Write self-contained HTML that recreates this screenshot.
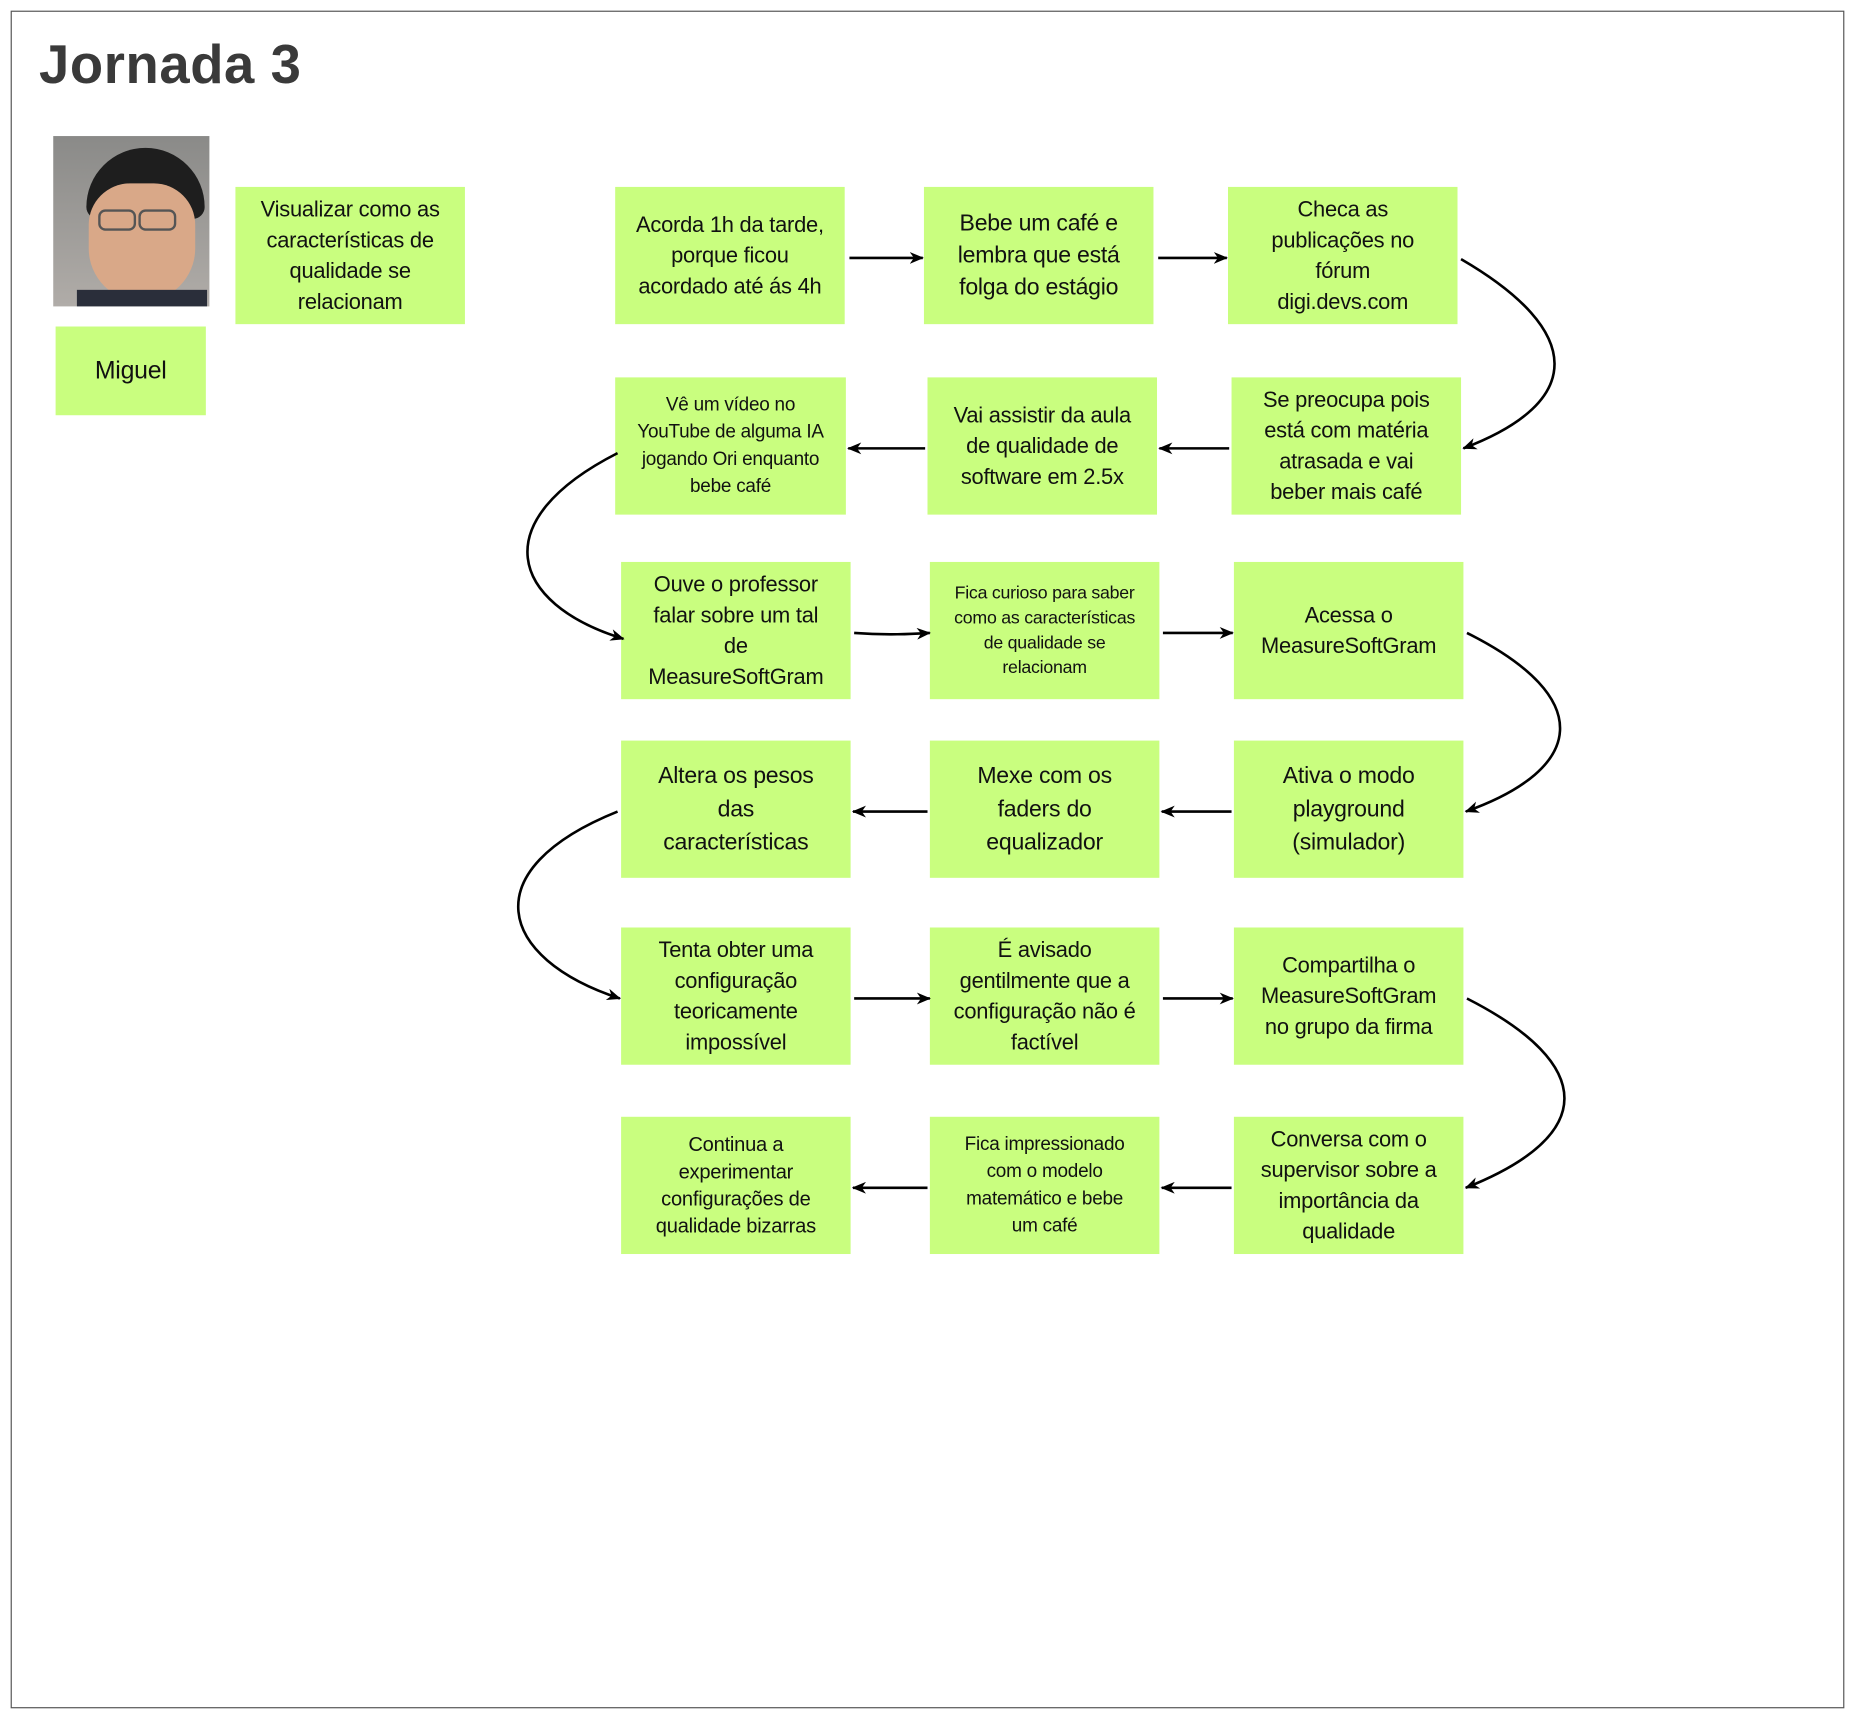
<!DOCTYPE html>
<html><head><meta charset="utf-8"><style>
html,body{margin:0;padding:0;background:#fff;width:1855px;height:1718px;overflow:hidden}
#w{position:absolute;left:0;top:0;width:1568px;height:1452px;transform:scale(1.18304);transform-origin:0 0;font-family:"Liberation Sans",sans-serif}
.b{position:absolute;background:#c9fe7f;display:flex;align-items:center;justify-content:center;text-align:center;color:#111;font-size:18.5px;line-height:26px;box-sizing:border-box;padding:0 2px;white-space:nowrap;letter-spacing:-0.2px}
.s{font-size:15px;line-height:21px}
.t{font-size:16px;line-height:23px}
</style></head><body><div id="w">
<div style="position:absolute;left:9px;top:9px;width:1548px;height:1433px;border:1px solid #555"></div>
<div style="position:absolute;left:33px;top:27px;font-size:46px;font-weight:bold;color:#3a3a3a;letter-spacing:0.5px">Jornada 3</div>
<div style="position:absolute;left:45px;top:115px;width:132px;height:144px;background:linear-gradient(#8a8a88,#b0aca8);overflow:hidden">
<div style="position:absolute;left:28px;top:10px;width:100px;height:60px;background:#1e1e1e;border-radius:50px 50px 10px 10px"></div>
<div style="position:absolute;left:30px;top:40px;width:90px;height:100px;background:#d9a888;border-radius:35px 35px 45px 45px"></div>
<div style="position:absolute;left:38px;top:62px;width:28px;height:14px;border:2px solid #555;border-radius:6px"></div>
<div style="position:absolute;left:72px;top:62px;width:28px;height:14px;border:2px solid #555;border-radius:6px"></div>
<div style="position:absolute;left:20px;top:130px;width:110px;height:30px;background:#2a2e3a"></div>
</div>
<div class="b" style="left:47px;top:276px;width:127px;height:75px;font-size:21px">Miguel</div>
<div class="b" style="left:199px;top:158px;width:194px;height:116px">Visualizar como as<br>características de<br>qualidade se<br>relacionam</div>

<div class="b" style="left:520px;top:158px;width:194px;height:116px">Acorda 1h da tarde,<br>porque ficou<br>acordado até ás 4h</div>
<div class="b" style="left:781px;top:158px;width:194px;height:116px;font-size:19.5px;line-height:27px">Bebe um café e<br>lembra que está<br>folga do estágio</div>
<div class="b" style="left:1038px;top:158px;width:194px;height:116px">Checa as<br>publicações no<br>fórum<br>digi.devs.com</div>

<div class="b t" style="left:520px;top:319px;width:195px;height:116px">Vê um vídeo no<br>YouTube de alguma IA<br>jogando Ori enquanto<br>bebe café</div>
<div class="b" style="left:784px;top:319px;width:194px;height:116px">Vai assistir da aula<br>de qualidade de<br>software em 2.5x</div>
<div class="b" style="left:1041px;top:319px;width:194px;height:116px">Se preocupa pois<br>está com matéria<br>atrasada e vai<br>beber mais café</div>

<div class="b" style="left:525px;top:475px;width:194px;height:116px">Ouve o professor<br>falar sobre um tal<br>de<br>MeasureSoftGram</div>
<div class="b s" style="left:786px;top:475px;width:194px;height:116px">Fica curioso para saber<br>como as características<br>de qualidade se<br>relacionam</div>
<div class="b" style="left:1043px;top:475px;width:194px;height:116px">Acessa o<br>MeasureSoftGram</div>

<div class="b" style="left:525px;top:626px;width:194px;height:116px;font-size:19.5px;line-height:28px">Altera os pesos<br>das<br>características</div>
<div class="b" style="left:786px;top:626px;width:194px;height:116px;font-size:19.5px;line-height:28px">Mexe com os<br>faders do<br>equalizador</div>
<div class="b" style="left:1043px;top:626px;width:194px;height:116px;font-size:19.5px;line-height:28px">Ativa o modo<br>playground<br>(simulador)</div>

<div class="b" style="left:525px;top:784px;width:194px;height:116px">Tenta obter uma<br>configuração<br>teoricamente<br>impossível</div>
<div class="b" style="left:786px;top:784px;width:194px;height:116px">É avisado<br>gentilmente que a<br>configuração não é<br>factível</div>
<div class="b" style="left:1043px;top:784px;width:194px;height:116px">Compartilha o<br>MeasureSoftGram<br>no grupo da firma</div>

<div class="b t" style="left:525px;top:944px;width:194px;height:116px;font-size:17px">Continua a<br>experimentar<br>configurações de<br>qualidade bizarras</div>
<div class="b t" style="left:786px;top:944px;width:194px;height:116px">Fica impressionado<br>com o modelo<br>matemático e bebe<br>um café</div>
<div class="b" style="left:1043px;top:944px;width:194px;height:116px">Conversa com o<br>supervisor sobre a<br>importância da<br>qualidade</div>

<svg style="position:absolute;left:0;top:0" width="1568" height="1452">
<defs><marker id="a" markerWidth="12" markerHeight="10" refX="11" refY="5" orient="auto" markerUnits="userSpaceOnUse"><path d="M0,0 L12,5 L0,10 L3.5,5z" fill="#000"/></marker></defs>
<g stroke="#000" stroke-width="2.2" fill="none" marker-end="url(#a)">
<path d="M718,218 H780"/><path d="M979,218 H1037"/>
<path d="M1235,219 C1340,280 1340,340 1237,379"/>
<path d="M1039,379 H980"/><path d="M782,379 H717"/>
<path d="M522,383 C410,440 430,510 527,540"/>
<path d="M722,535 C750,537 770,536 786,535"/><path d="M983,535 H1042"/>
<path d="M1240,535 C1350,590 1340,650 1239,686"/>
<path d="M1041,686 H982"/><path d="M784,686 H721"/>
<path d="M522,686 C400,735 420,810 524,844"/>
<path d="M722,844 H786"/><path d="M983,844 H1042"/>
<path d="M1240,844 C1350,900 1350,960 1239,1004"/>
<path d="M1041,1004 H982"/><path d="M784,1004 H721"/>
</g></svg>
</div></body></html>
